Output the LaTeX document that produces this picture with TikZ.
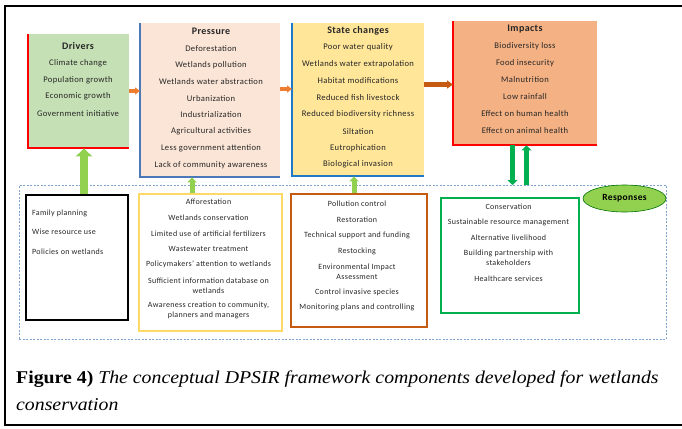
\documentclass[tikz,border=0pt]{standalone}
\usepackage{fontspec}
\setmainfont{Carlito}[LetterSpace=4]
\newfontfamily\capfont{Liberation Serif}[FakeStretch=1.1]
\usetikzlibrary{arrows.meta,shapes.geometric}
\definecolor{drvfill}{HTML}{C5E0B4}
\definecolor{prsfill}{HTML}{FBE5D6}
\definecolor{stafill}{HTML}{FFE699}
\definecolor{impfill}{HTML}{F4B183}
\definecolor{redline}{HTML}{FF0000}
\definecolor{blueline}{HTML}{4A78B8}
\definecolor{blueline2}{HTML}{1F78C8}
\definecolor{lgreen}{HTML}{92D050}
\definecolor{dgreen}{HTML}{00B050}
\definecolor{yelline}{HTML}{FFD966}
\definecolor{orgline}{HTML}{C55A11}
\definecolor{orgarrow}{HTML}{ED7D31}
\definecolor{dashblue}{HTML}{7FA3CF}
\tikzset{
  topbox/.style={anchor=north west, inner sep=0pt, draw=none},
  ttl/.style={font=\fontsize{10}{12}\selectfont\bfseries, inner sep=0pt, text=black!85},
  itm/.style={font=\fontsize{8.6}{10}\selectfont, inner sep=0pt, text=black!85},
  ritm/.style={font=\fontsize{8}{10}\selectfont, inner sep=0pt, text=black!85, align=center},
  rbox/.style={anchor=north west, inner sep=0pt, line width=1.6pt},
  gbig/.style={draw=lgreen, line width=8pt, -{Triangle[width=16pt,length=8pt]}},
  gsmall/.style={draw=lgreen, line width=5pt, -{Triangle[width=9pt,length=5pt]}},
  gdark/.style={draw=dgreen, line width=5pt, -{Triangle[width=10pt,length=5pt]}},
  oarrow/.style={draw=orgarrow, line width=4pt, -{Triangle[width=7pt,length=5pt]}},
  barrow/.style={draw=orgline, line width=4.5pt, -{Triangle[width=8pt,length=6pt]}},
}
\begin{document}
\begin{tikzpicture}[x=1pt,y=-1pt]
\useasboundingbox (0,0) rectangle (682,428);
% outer frame
\coordinate (f1) at (5,6);
\coordinate (f2) at (5,425);
\coordinate (f3) at (682,425);
\coordinate (f4) at (682,6);
\draw[line width=2.5pt] (f4) -- (f1) -- (f2) -- (f3);
% ---------- top boxes
\node[topbox, fill=drvfill, minimum width=101pt, minimum height=114pt] (drv) at (28,34) {};
\draw[redline, line width=2pt] (drv.north west) -- (drv.south west) -- (drv.south east);
\node[topbox, fill=prsfill, minimum width=140pt, minimum height=154pt] (prs) at (140,23) {};
\draw[blueline, line width=2pt] (prs.north west) -- (prs.south west) -- (prs.south east);
\node[topbox, fill=stafill, minimum width=132pt, minimum height=153pt] (sta) at (292,23) {};
\draw[blueline2, line width=2pt] (sta.north west) -- (sta.south west) -- (sta.south east);
\node[topbox, fill=impfill, minimum width=144pt, minimum height=124pt] (imp) at (453,21) {};
\draw[redline, line width=2pt] (imp.north west) -- (imp.south west) -- (imp.south east);
% titles
\node[ttl] (drvT) at (78,46) {Drivers};
\node[ttl] (prsT) at (211,31) {Pressure};
\node[ttl] (staT) at (358,31) {State changes};
\node[ttl] (impT) at (525,29) {Impacts};
% items
\foreach \t [count=\i] in {Climate change, Population  growth, Economic growth, Government  initiative}
  \node[itm] (d\i) at (78,{63.3+16.7*(\i-1)}) {\t};
\foreach \t [count=\i] in {Deforestation, Wetlands pollution, Wetlands water abstraction, Urbanization, Industrialization, Agricultural activities, Less government  attention, Lack of community awareness}
  \node[itm] (p\i) at (211,{48.3+16.67*(\i-1)}) {\t};
\foreach \t [count=\i] in {Poor  water quality, Wetlands water extrapolation, Habitat modifications, Reduced  fish livestock, Reduced  biodiversity  richness, Siltation, Eutrophication, Biological invasion}
  \node[itm] (s\i) at (358,{47.7+16.67*(\i-1)}) {\t};
\foreach \t [count=\i] in {Biodiversity  loss, Food insecurity, Malnutrition, Low rainfall, Effect on human health, Effect on animal health}
  \node[itm] (m\i) at (525,{46.7+16.67*(\i-1)}) {\t};
% ---------- responses region
\node[anchor=north west, draw=dashblue, dash pattern=on 2pt off 1.5pt, line width=0.7pt, minimum width=647pt, minimum height=154pt, inner sep=0pt] (resp) at (19,185) {};
\node[ellipse, fill=lgreen, draw=black!55!green, line width=0.6pt, minimum width=83pt, minimum height=27pt, inner sep=0pt, font=\fontsize{9.5}{11}\selectfont\bfseries] (respE) at (624.5,198.5) {Responses};
\node[rbox, draw=black, line width=2pt, minimum width=102pt, minimum height=125pt] (b1) at (25,194) {};
\node[rbox, draw=yelline, minimum width=143pt, minimum height=137pt] (b2) at (138,193) {};
\node[rbox, draw=orgline, minimum width=136pt, minimum height=133pt] (b3) at (290,193) {};
\node[rbox, draw=dgreen, minimum width=138pt, minimum height=115pt] (b4) at (440,197) {};
% box 1
\node[ritm, anchor=west] (r11) at (32,213) {Family planning};
\node[ritm, anchor=west] (r12) at (32,232) {Wise resource use};
\node[ritm, anchor=west] (r13) at (32,252) {Policies on wetlands};
% box 2
\node[ritm] (r21) at (208.5,202) {Afforestation};
\node[ritm] (r22) at (208.5,218) {Wetlands conservation};
\node[ritm] (r23) at (208.5,233.5) {Limited use of artificial fertilizers};
\node[ritm] (r24) at (208.5,249) {Wastewater treatment};
\node[ritm] (r25) at (208.5,264.7) {Policymakers' attention to wetlands};
\node[ritm] (r26) at (208.5,285.3) {Sufficient information database on\\wetlands};
\node[ritm] (r27) at (208.5,310.7) {Awareness creation to community,\\planners and managers};
% box 3
\node[ritm] (r31) at (357,204) {Pollution control};
\node[ritm] (r32) at (357,220) {Restoration};
\node[ritm] (r33) at (357,235.7) {Technical support and funding};
\node[ritm] (r34) at (357,251.3) {Restocking};
\node[ritm] (r35) at (357,272) {Environmental Impact\\Assessment};
\node[ritm] (r36) at (357,292) {Control invasive species};
\node[ritm] (r37) at (357,307) {Monitoring plans and controlling};
% box 4
\node[ritm] (r41) at (508.5,206.7) {Conservation};
\node[ritm] (r42) at (508.5,222) {Sustainable resource management};
\node[ritm] (r43) at (508.5,237.7) {Alternative livelihood};
\node[ritm] (r44) at (508.5,258.2) {Building partnership with\\stakeholders};
\node[ritm] (r45) at (508.5,279) {Healthcare services};
% ---------- arrows
\draw[oarrow] (drv.east |- 0,91) -- (prs.west |- 0,91);
\draw[oarrow] (prs.east |- 0,89) -- (sta.west |- 0,89);
\draw[barrow] (sta.east |- 0,84.5) -- (imp.west |- 0,84.5);
\draw[gbig] ([xshift=7pt]b1.north) -- ([xshift=7pt]b1.north |- drv.south);
\draw[gsmall] (b2.north -| 192,0) -- (prs.south -| 192,0);
\draw[gsmall] (b3.north -| 354,0) -- (sta.south -| 354,0);
\draw[gdark] (imp.south -| 512.5,0) -- (resp.north -| 512.5,0);
\draw[gdark] (resp.north -| 526.5,0) -- (imp.south -| 526.5,0);
% ---------- caption
\node[anchor=base west, inner sep=0pt, font=\capfont\fontsize{18}{21}\selectfont] (cap1) at (16,383) {\textbf{Figure 4)} \textit{The conceptual DPSIR framework components developed for wetlands}};
\node[anchor=base west, inner sep=0pt, font=\capfont\fontsize{18}{21}\selectfont] (cap2) at (16,410) {\textit{conservation}};
\end{tikzpicture}
\end{document}
